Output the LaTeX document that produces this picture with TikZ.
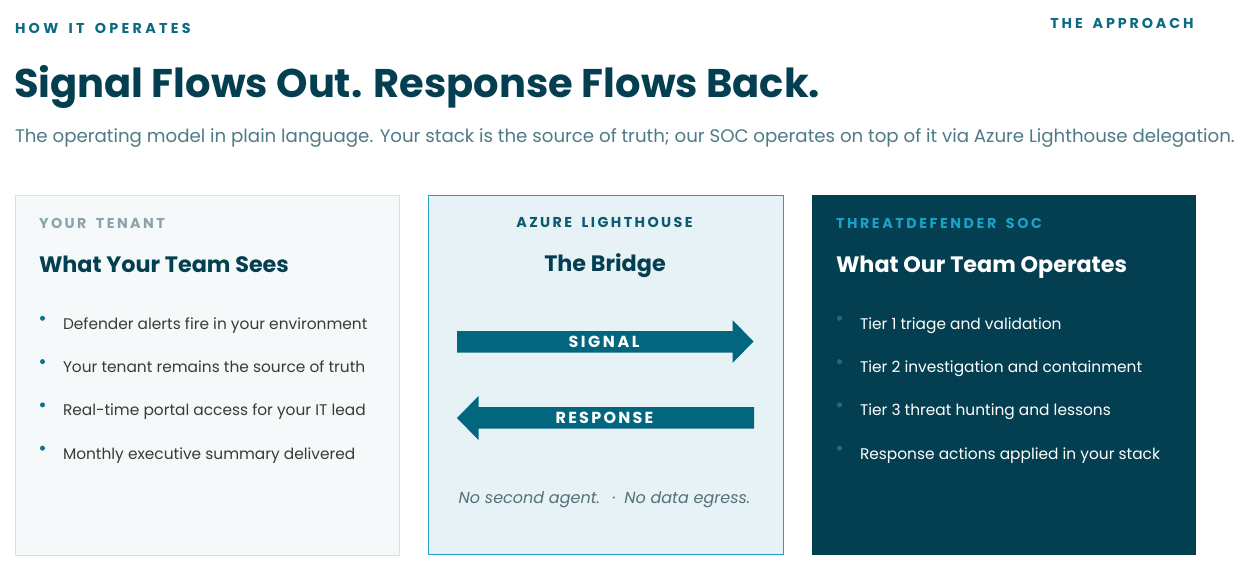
\documentclass[tikz,border=0pt]{standalone}
\usepackage{fontspec}
\setmainfont{Poppins}
\definecolor{ink}{HTML}{033F50}
\definecolor{kicker}{HTML}{0C6A82}
\definecolor{midk}{HTML}{0A5A70}
\definecolor{subt}{HTML}{4D7B86}
\definecolor{leftfill}{HTML}{F5F9FA}
\definecolor{leftline}{HTML}{D5E1E4}
\definecolor{midfill}{HTML}{E6F2F5}
\definecolor{midline}{HTML}{2A9EC0}
\definecolor{arrowc}{HTML}{03667F}
\definecolor{grayk}{HTML}{8CA3AB}
\definecolor{body}{HTML}{3A3A3A}
\definecolor{cyank}{HTML}{1AA3C8}
\definecolor{dotl}{HTML}{0F7190}
\definecolor{dotr}{HTML}{1A6F87}
\definecolor{foot}{HTML}{55707A}
\newcommand\wsp{\hspace{4pt} }
\begin{document}
\begin{tikzpicture}[x=1pt,y=-1pt,
  every node/.style={inner sep=0pt,outer sep=0pt},
  kick/.style={font=\fontsize{14.3}{16}\selectfont\bfseries\addfontfeatures{LetterSpace=#1}},
  kick/.default=17,
  cardtitle/.style={font=\fontsize{22.3}{26}\selectfont\bfseries},
  item/.style={font=\fontsize{15.4}{18}\selectfont, anchor=base west},
  arrowlabel/.style={font=\fontsize{16}{18}\selectfont\bfseries\addfontfeatures{LetterSpace=#1}, text=white},
  card/.style={draw, line width=1pt}
]
\useasboundingbox[fill=white] (0,0) rectangle (1239,574);
% header
\node[kick=23, text=kicker, anchor=base west] (k1) at (15,33) {HOW\wsp IT\wsp OPERATES};
\node[kick=20, text=kicker, anchor=base east] (k2) at (1193.5,28) {THE\wsp APPROACH};
\node[font=\fontsize{40}{46}\selectfont\bfseries, text=ink, anchor=base west] (title) at (14,97) {Signal Flows Out. Response Flows Back.};
\node[font=\fontsize{18.2}{22}\selectfont, text=subt, anchor=base west] (sub) at (15,142) {The operating model in plain language. Your stack is the source of truth; our SOC operates on top of it via Azure Lighthouse delegation.};
% cards
\node[card, draw=leftline, fill=leftfill, minimum width=384pt, minimum height=360pt, anchor=north west] (cL) at (15.5,195.5) {};
\node[card, draw=midline, fill=midfill, minimum width=355pt, minimum height=359pt, anchor=north west] (cM) at (428.5,195.5) {};
\node[fill=ink, minimum width=384pt, minimum height=360pt, anchor=north west] (cR) at (812,195) {};
% left card
\node[kick=17, text=grayk, anchor=base west] (lk) at (39,228.3) {YOUR\wsp TENANT};
\node[cardtitle, text=ink, anchor=base west] (lt) at (39,272) {What Your Team Sees};
\foreach \t [count=\i] in {Defender alerts fire in your environment, Your tenant remains the source of truth, Real-time portal access for your IT lead, Monthly executive summary delivered}{
  \pgfmathsetmacro\yy{329.3+43.3*(\i-1)}
  \fill[dotl] (42.5,\yy-11) circle (2.5pt);
  \node[item, text=body] (l\i) at (63,\yy) {\t};
}
% middle card
\node[kick=17, text=midk, anchor=base] (mk) at (604.5,227.8) {AZURE\wsp LIGHTHOUSE};
\node[cardtitle, text=ink, anchor=base] (mt) at (605,271.5) {The Bridge};
\fill[arrowc] (457,331) -- (732.5,331) -- (732.5,320) -- (753.5,341.5) -- (732.5,363) -- (732.5,352.5) -- (457,352.5) -- cycle;
\node[arrowlabel=16] (sig) at (604,342) {SIGNAL};
\fill[arrowc] (754,407) -- (478.5,407) -- (478.5,396) -- (457,418) -- (478.5,440) -- (478.5,428.7) -- (754,428.7) -- cycle;
\node[arrowlabel=14] (resp) at (604.5,418) {RESPONSE};
\node[font=\fontsize{16}{19}\selectfont\itshape, text=foot, anchor=base] (ft) at (604.5,503) {No second agent.\hspace{13pt}·\hspace{8pt}No data egress.};
% right card
\node[kick=18, text=cyank, anchor=base west] (rk) at (836,228.3) {THREATDEFENDER\wsp SOC};
\node[cardtitle, text=white, anchor=base west] (rt) at (836,272) {What Our Team Operates};
\foreach \t [count=\i] in {Tier 1 triage and validation, Tier 2 investigation and containment, Tier 3 threat hunting and lessons, Response actions applied in your stack}{
  \pgfmathsetmacro\yy{329.3+43.3*(\i-1)}
  \fill[dotr] (839.5,\yy-11) circle (2.5pt);
  \node[item, text=white] (r\i) at (860,\yy) {\t};
}
\end{tikzpicture}
\end{document}
